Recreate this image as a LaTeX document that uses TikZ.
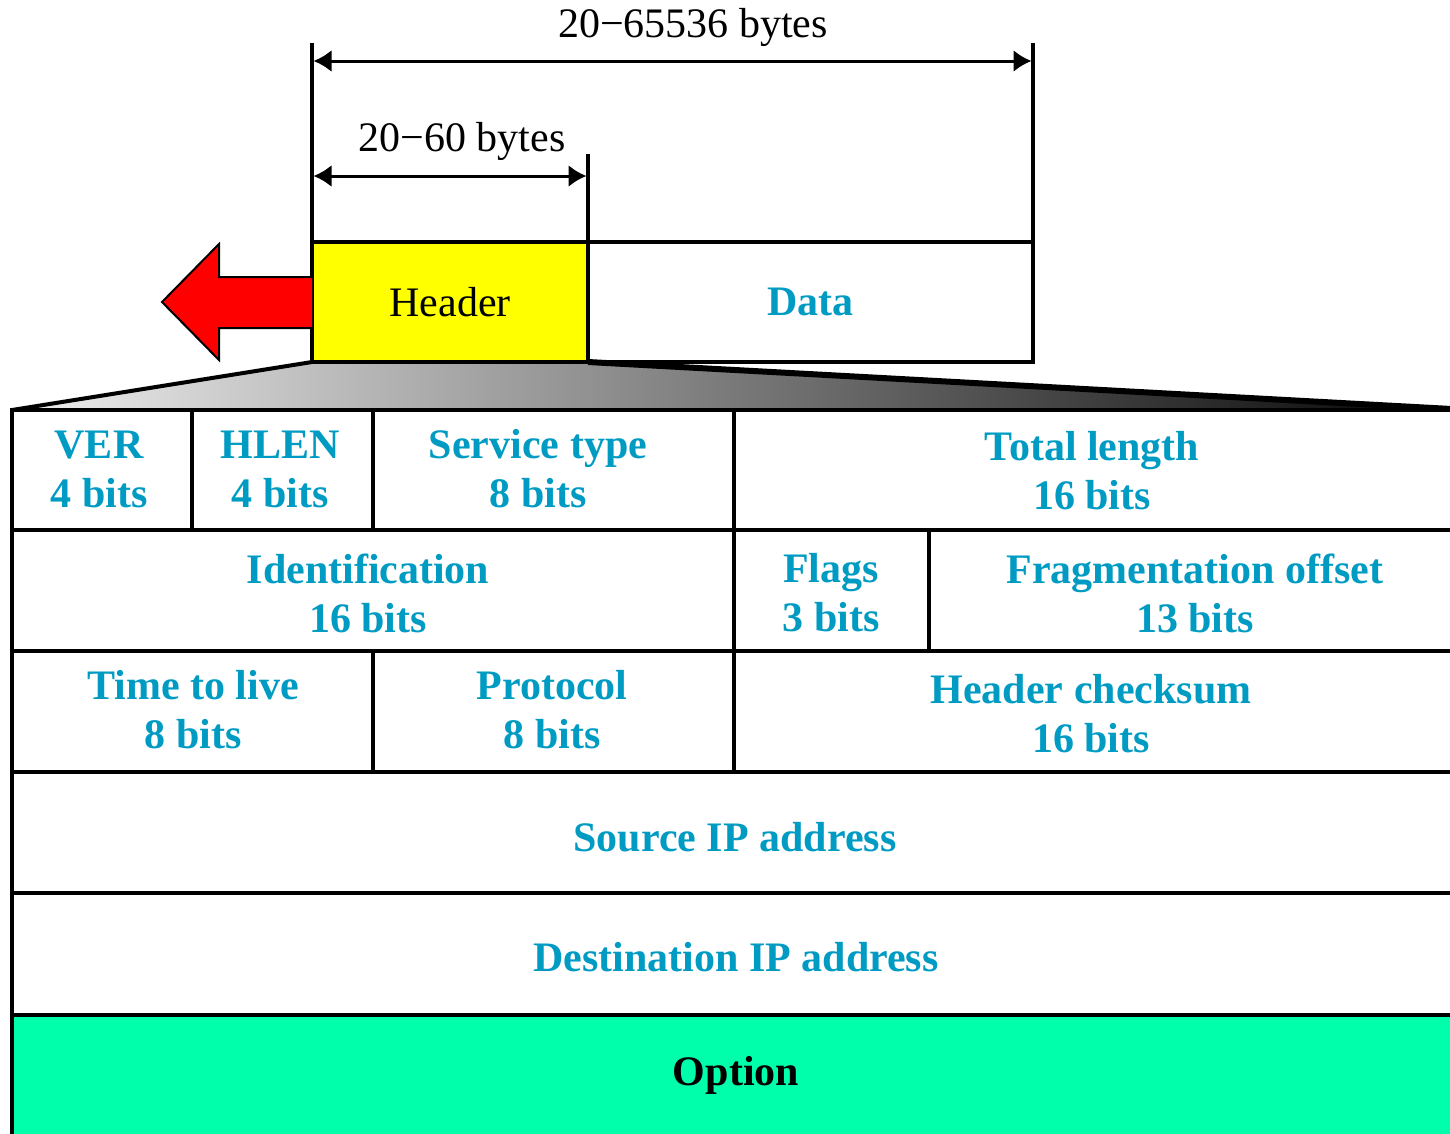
\documentclass[tikz,border=0pt]{standalone}
\usepackage{fontspec}
\setmainfont{Liberation Serif}
\usetikzlibrary{arrows.meta}
\definecolor{fieldblue}{RGB}{0,155,195}
\definecolor{optgreen}{RGB}{0,255,170}
\definecolor{hdryellow}{RGB}{255,255,0}
\definecolor{arrowred}{RGB}{255,0,0}
\tikzset{
  field/.style={font=\fontsize{42}{49}\selectfont\bfseries, text=fieldblue, align=center, inner sep=0pt},
  optfield/.style={font=\fontsize{42}{49}\selectfont\bfseries, text=black, align=center, inner sep=0pt},
  dimlabel/.style={font=\fontsize{42}{49}\selectfont, inner sep=0pt},
  gridline/.style={line width=4pt},
  boxline/.style={line width=4pt, outer sep=0pt},
  extline/.style={line width=3.5pt},
  dimarrow/.style={line width=3pt, {Latex[length=18pt,width=22pt]}-{Latex[length=18pt,width=22pt]}},
}
\begin{document}
\begin{tikzpicture}[x=1pt,y=-1pt]
\useasboundingbox (0,0) rectangle (1450,1133);
\clip (0,0) rectangle (1450,1133);

% gradient wedge
\shade[left color=black!6, right color=black] (312,362) -- (588,362) -- (1470,410) -- (12,410) -- cycle;
\draw[line width=4pt] (312,362) -- (12,410);
\draw[line width=6pt] (588,362) -- (1470,410);

% option row fill
\fill[optgreen] (12,1015) rectangle (1470,1140);

% header and data boxes
\node[draw, boxline, fill=hdryellow, minimum width=276pt, minimum height=120pt, anchor=north west,
      font=\fontsize{42}{49}\selectfont, inner sep=0pt] (hdr) at (312,242) {Header};
\node[draw, boxline, minimum width=445pt, minimum height=120pt, anchor=north west,
      font=\fontsize{42}{49}\selectfont\bfseries, text=fieldblue, inner sep=0pt] (data) at (588,242) {Data};

% extension lines
\coordinate (L1top) at (312,43);
\coordinate (R1top) at (1033,43);
\coordinate (M1top) at (588,154);
\draw[extline] (L1top) -- (hdr.north west);
\draw[extline] (R1top) -- (data.north east);
\draw[extline] (M1top) -- (hdr.north east);

% dimension arrows
\coordinate (a1l) at (313.5,61);
\coordinate (a1r) at (1031.5,61);
\coordinate (a2l) at (313.5,176);
\coordinate (a2r) at (586.5,176);
\draw[dimarrow] (a1l) -- (a1r);
\draw[dimarrow] (a2l) -- (a2r);
\node[dimlabel] (lbl1) at (693,27) {20−65536 bytes};
\node[dimlabel] (lbl2) at (462,141) {20−60 bytes};

% red arrow
\draw[line width=2pt, fill=arrowred, line join=miter]
  (312,277) -- (219,277) -- (219,244) -- (162,302) -- (219,360) -- (219,328) -- (312,328);

% table grid
\draw[gridline] (12,410) -- (1470,410);
\draw[gridline] (12,530) -- (1470,530);
\draw[gridline] (12,651) -- (1470,651);
\draw[gridline] (12,772) -- (1470,772);
\draw[gridline] (12,893) -- (1470,893);
\draw[gridline] (12,1015) -- (1470,1015);
\draw[gridline] (12,408) -- (12,1140);
\draw[gridline] (192,410) -- (192,530);
\draw[gridline] (373,410) -- (373,530);
\draw[gridline] (734,410) -- (734,530);
\draw[gridline] (734,530) -- (734,651);
\draw[gridline] (929,530) -- (929,651);
\draw[gridline] (373,651) -- (373,772);
\draw[gridline] (734,651) -- (734,772);

% field labels
\node[field] (ver) at (99,469) {VER\\4 bits};
\node[field] (hlen) at (280,469) {HLEN\\4 bits};
\node[field] (tos) at (538,469) {Service type\\8 bits};
\node[field] (tlen) at (1092,471) {Total length\\16 bits};
\node[field] (ident) at (368,593) {Identification\\16 bits};
\node[field] (flags) at (831,593) {Flags\\3 bits};
\node[field] (frag) at (1195,593) {Fragmentation offset\\13 bits};
\node[field] (ttl) at (193,710) {Time to live\\8 bits};
\node[field] (proto) at (552,710) {Protocol\\8 bits};
\node[field] (csum) at (1091,714) {Header checksum\\16 bits};
\node[field] (src) at (735,837) {Source IP address};
\node[field] (dst) at (736,957) {Destination IP address};
\node[optfield] (opt) at (736,1075) {Option};
\end{tikzpicture}
\end{document}
